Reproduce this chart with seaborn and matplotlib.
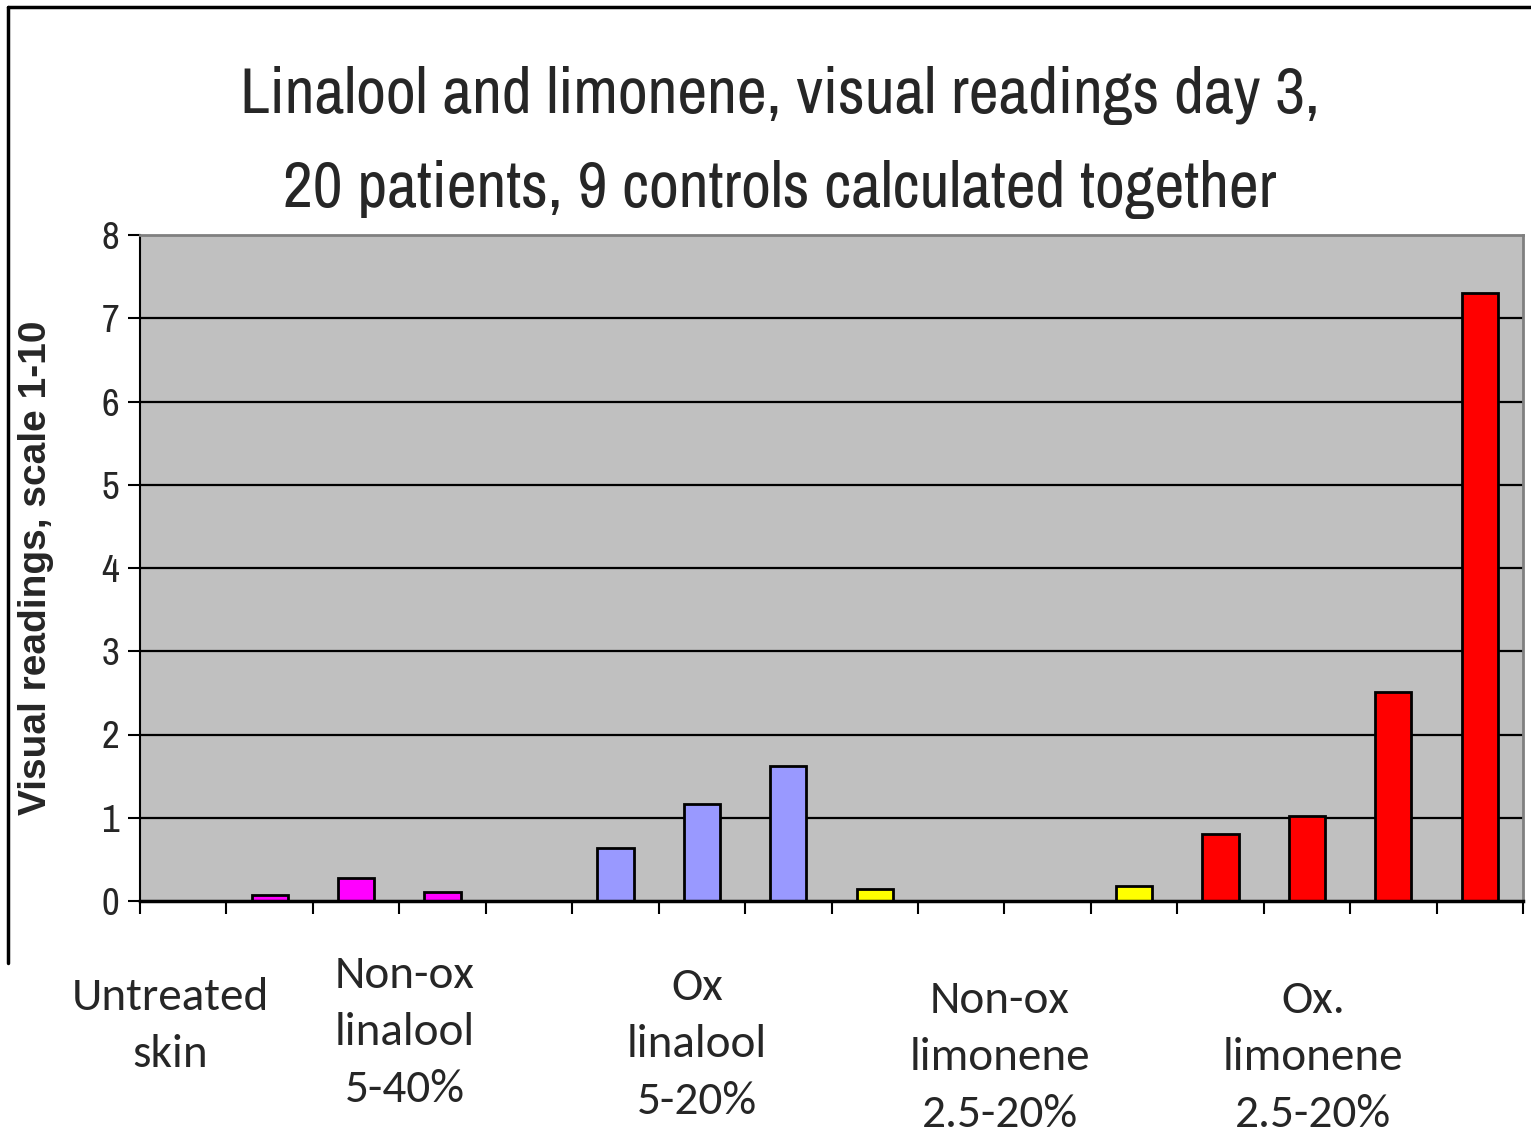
import pandas as pd
import matplotlib.pyplot as plt
import seaborn as sns

# one bar per sample, grouped by substance
samples = ["Untreated",
           "Non-ox linalool 5%", "Non-ox linalool 10%", "Non-ox linalool 20%", "Non-ox linalool 40%",
           "Ox linalool 5%", "Ox linalool 10%", "Ox linalool 20%",
           "Non-ox limonene 2.5%", "Non-ox limonene 5%", "Non-ox limonene 10%", "Non-ox limonene 20%",
           "Ox limonene 2.5%", "Ox limonene 5%", "Ox limonene 10%", "Ox limonene 20%"]
groups = ["untreated",
          "nonox_linalool", "nonox_linalool", "nonox_linalool", "nonox_linalool",
          "ox_linalool", "ox_linalool", "ox_linalool",
          "nonox_limonene", "nonox_limonene", "nonox_limonene", "nonox_limonene",
          "ox_limonene", "ox_limonene", "ox_limonene", "ox_limonene"]
readings = [0.0, 0.07, 0.28, 0.11, 0.0, 0.64, 1.17, 1.62,
            0.14, 0.0, 0.0, 0.18, 0.81, 1.02, 2.51, 7.30]

group_colors = {"untreated": "#FF00FF", "nonox_linalool": "#FF00FF",
                "ox_linalool": "#9999FF", "nonox_limonene": "#FFFF00",
                "ox_limonene": "#FF0000"}

group_labels = [["Untreated", "skin"],
                ["Non-ox", "linalool", "5-40%"],
                ["Ox", "linalool", "5-20%"],
                ["Non-ox", "limonene", "2.5-20%"],
                ["Ox.", "limonene", "2.5-20%"]]
# x centre and first baseline of each label block, in pixels
label_pos = [(170, 1010), (405, 988), (697, 1000), (1000, 1013), (1313, 1013)]
label_step = 57

title_lines = ["Linalool and limonene, visual readings day 3,",
               "20 patients, 9 controls calculated together"]
ylabel = "Visual readings, scale 1-10"

df = pd.DataFrame({"sample": samples, "group": groups, "value": readings})

sns.set_theme(style="white")
narrow = ["Liberation Sans Narrow", "Archivo Narrow", "PT Sans Narrow",
          "Roboto Condensed", "Open Sans Condensed", "DejaVu Sans"]
plt.rcParams["font.family"] = narrow

W, H = 1531, 1133
fig = plt.figure(figsize=(W / 100, H / 100), dpi=100)
ax = fig.add_axes([140 / W, 1 - 901 / H, (1523 - 140) / W, (901 - 235) / H])
ax.set_facecolor("#C0C0C0")

sns.barplot(data=df, x="sample", y="value", hue="group", palette=group_colors,
            dodge=False, width=0.42, saturation=1, edgecolor="black", linewidth=2,
            legend=False, ax=ax, zorder=3)

ax.set_ylim(0, 8)
ax.set_xlim(-0.5, len(samples) - 0.5)
ax.set_yticks(range(0, 9))
ax.set_yticklabels([str(i) for i in range(0, 9)], fontsize=28)
ax.set_xticks([i - 0.5 for i in range(len(samples) + 1)])
ax.set_xticklabels([])
ax.tick_params(axis="both", direction="out", length=9, width=1.5, color="black",
               left=True, bottom=True, pad=6)
ax.set_xlabel("")
ax.set_ylabel(ylabel, fontsize=28, fontweight="bold",
              family=["Liberation Sans", "Arimo", "DejaVu Sans"])
ax.yaxis.set_label_coords((54 - 140) / (1523 - 140), 0.5)

for y in range(1, 8):
    ax.axhline(y, color="black", linewidth=1.6, zorder=1)

for side in ["top", "right"]:
    ax.spines[side].set_color("#808080")
    ax.spines[side].set_linewidth(2)
ax.spines["left"].set_color("black")
ax.spines["left"].set_linewidth(1.5)
ax.spines["bottom"].set_color("black")
ax.spines["bottom"].set_linewidth(2.5)
ax.spines["bottom"].set_zorder(5)

for line, base in zip(title_lines, [113, 207]):
    fig.text(780 / W, 1 - base / H, line, ha="center", va="baseline", fontsize=47)

for lines, (px, py) in zip(group_labels, label_pos):
    for k, line in enumerate(lines):
        fig.text(px / W, 1 - (py + k * label_step) / H, line, ha="center",
                 va="baseline", fontsize=34, family=["Carlito", "Lato", "DejaVu Sans"])

# outer chart frame (cut off at the bottom in the original)
fig.add_artist(plt.Line2D([8 / W, 1.0], [1 - 7 / H, 1 - 7 / H], color="black", linewidth=2.5))
fig.add_artist(plt.Line2D([8 / W, 8 / W], [1 - 7 / H, 1 - 963 / H], color="black", linewidth=2.5))

fig.savefig("out.png", dpi=100)
